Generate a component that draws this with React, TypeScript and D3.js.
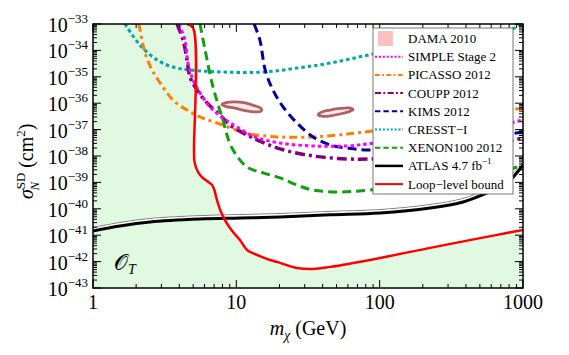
import * as d3 from "d3";

const W = 569;
const H = 355;
const margin = { top: 24, right: 46, bottom: 67, left: 93 };

// masses in GeV, cross sections as log10(sigma / cm^2)
const loopMass = [4.53, 4.99, 5.07, 5.11, 5.32, 5.67, 6.25, 6.77, 6.99, 7.33, 7.82, 8.48, 9.48, 10.6, 11.9, 14.6, 17.2, 20.2, 26.5, 34.3, 45.1, 100.7, 225, 502, 1000];
const loopLog = [-33.0, -33.15, -37.77, -38.23, -38.53, -38.76, -38.95, -39.1, -39.25, -39.67, -40.12, -40.5, -40.88, -41.18, -41.56, -41.79, -41.94, -42.05, -42.24, -42.28, -42.2, -41.86, -41.48, -41.11, -40.8];

const atlasMass = [1, 1.54, 2.5, 5.58, 10.6, 20.2, 45.1, 100.7, 225, 382, 561, 774, 1000];
const atlasLog = [-40.84, -40.65, -40.5, -40.39, -40.35, -40.31, -40.23, -40.16, -39.97, -39.74, -39.4, -39.02, -38.34];

const xenonMass = [5.58, 6.05, 6.88, 7.94, 9.33, 11.9, 15.4, 20.2, 26.5, 34.3, 52.9, 85.7, 310, 589, 1000];
const xenonLog = [-33.0, -33.98, -35.39, -36.52, -37.7, -38.42, -38.64, -38.83, -39.1, -39.29, -39.36, -39.29, -38.98, -38.72, -38.34];

const kimsMass = [13.3, 14.6, 15.9, 18.0, 21.2, 26.5, 34.3, 45.1, 59.2, 85.7, 264, 1000];
const kimsLog = [-33.0, -33.61, -34.74, -35.5, -36.14, -36.75, -37.28, -37.58, -37.7, -37.77, -37.51, -37.09];

const cresstMass = [1.67, 2.13, 2.8, 3.61, 4.75, 8.08, 15.4, 26.5, 45.1, 89.9, 310, 881, 955];
const cresstLog = [-33.0, -33.8, -34.36, -34.63, -34.74, -34.82, -34.82, -34.67, -34.48, -34.14, -33.61, -33.15, -33.0];

const picassoMass = [2.09, 2.2, 2.31, 2.58, 2.94, 3.61, 4.53, 5.58, 7.33, 10.1, 12.5, 20.2, 34.3, 59.2, 89.9, 310, 1000];
const picassoLog = [-33.0, -33.61, -34.1, -34.74, -35.23, -35.88, -36.26, -36.52, -36.75, -37.02, -37.17, -37.28, -37.28, -37.17, -37.05, -36.64, -36.18];

const simpleMass = [3.98, 4.38, 4.6, 4.99, 5.58, 6.55, 8.08, 10.1, 13.5, 20.2, 34.3, 59.2, 92.9, 310, 1000];
const simpleLog = [-33.0, -33.61, -34.48, -35.12, -35.61, -36.14, -36.56, -36.9, -37.28, -37.51, -37.62, -37.62, -37.51, -37.2, -36.64];

const couppMass = [3.86, 4.25, 4.53, 4.75, 5.32, 6.25, 7.7, 9.03, 13.1, 20.2, 34.3, 59.2, 89.9, 310, 1000];
const couppLog = [-33.0, -33.61, -34.36, -35.01, -35.5, -35.99, -36.45, -36.83, -37.32, -37.73, -38.0, -38.11, -38.11, -37.85, -37.32];

const damaLowMass = [7.94, 8.61, 9.79, 11.5, 13.3, 14.9, 14.9, 13.5, 11.5, 9.64, 8.48];
const damaLowLog = [-36.05, -35.97, -35.95, -35.99, -36.09, -36.2, -36.3, -36.33, -36.28, -36.18, -36.13];
const damaHighMass = [37.2, 39.6, 45.1, 52.9, 61.1, 65.2, 62.1, 54.7, 46.5, 40.3];
const damaHighLog = [-36.43, -36.33, -36.26, -36.2, -36.18, -36.24, -36.31, -36.39, -36.47, -36.5];

const xTicks = [1, 10, 100, 1000];
const yExponents = [-33, -34, -35, -36, -37, -38, -39, -40, -41, -42, -43];

const legendLabels = ["DAMA 2010", "SIMPLE Stage 2", "PICASSO 2012", "COUPP 2012", "KIMS 2012", "CRESST\u2212I", "XENON100 2012", "ATLAS 4.7 fb", "Loop\u2212level bound"];

type Pt = [number, number];
const zip = (m: number[], l: number[]): Pt[] => m.map((v, i) => [v, l[i]]);

const styles: Record<string, { color: string; width: number; dash?: string }> = {
  simple: { color: "#ff00ff", width: 3, dash: "3.5,3" },
  picasso: { color: "#ff7f00", width: 3, dash: "8,4,3,4" },
  coupp: { color: "#800080", width: 3.5, dash: "10,4,3,4" },
  kims: { color: "#0000a0", width: 3, dash: "9,5" },
  cresst: { color: "#00a8a8", width: 3, dash: "3.5,3" },
  xenon: { color: "#10a010", width: 3, dash: "9,5" },
  atlas: { color: "#000000", width: 3 },
  loop: { color: "#ff0000", width: 2.5 },
};

export default function App() {
  const x0 = margin.left;
  const x1 = W - margin.right;
  const y0 = margin.top;
  const y1 = H - margin.bottom;

  const x = d3.scaleLog().domain([1, 1000]).range([x0, x1]);
  const y = d3.scaleLog().domain([1e-43, 1e-33]).range([y1, y0]);

  const line = d3
    .line<Pt>()
    .x((d) => x(d[0]))
    .y((d) => y(Math.pow(10, d[1])))
    .curve(d3.curveCatmullRom.alpha(0.5));
  const closed = d3
    .line<Pt>()
    .x((d) => x(d[0]))
    .y((d) => y(Math.pow(10, d[1])))
    .curve(d3.curveCatmullRomClosed.alpha(0.5));

  const loopPts = zip(loopMass, loopLog);
  const fillPath =
    line(loopPts) +
    `L${x(1000)},${y(1e-43)}L${x(1)},${y(1e-43)}L${x(1)},${y(1e-33)}Z`;

  const series: [string, Pt[]][] = [
    ["cresst", zip(cresstMass, cresstLog)],
    ["picasso", zip(picassoMass, picassoLog)],
    ["kims", zip(kimsMass, kimsLog)],
    ["coupp", zip(couppMass, couppLog)],
    ["simple", zip(simpleMass, simpleLog)],
    ["xenon", zip(xenonMass, xenonLog)],
  ];

  // minor ticks
  const xMinor: number[] = [];
  [1, 10, 100].forEach((d) => {
    for (let k = 2; k <= 9; k++) xMinor.push(k * d);
  });
  const yMinor: number[] = [];
  for (let e = -43; e < -33; e++) {
    for (let k = 2; k <= 9; k++) yMinor.push(k * Math.pow(10, e));
  }

  const legendKeys = ["dama", "simple", "picasso", "coupp", "kims", "cresst", "xenon", "atlas", "loop"];
  const lx = 373;
  const ly = 28;

  return (
    <svg
      width={W}
      height={H}
      style={{ position: "absolute", left: 0, top: 0, background: "#fff" }}
      fontFamily="'Liberation Serif', 'Times New Roman', serif"
    >
      <defs>
        <clipPath id="plot">
          <rect x={x0} y={y0} width={x1 - x0} height={y1 - y0} />
        </clipPath>
      </defs>
      <g clipPath="url(#plot)">
        <path d={fillPath} fill="#e1f9e1" stroke="none" />
        {series.map(([k, pts]) => (
          <path
            key={k}
            d={line(pts) || ""}
            fill="none"
            stroke={styles[k].color}
            strokeWidth={styles[k].width}
            strokeDasharray={styles[k].dash}
          />
        ))}
        {[zip(damaLowMass, damaLowLog), zip(damaHighMass, damaHighLog)].map((pts, i) => (
          <path key={i} d={closed(pts) || ""} fill="#fdeaea" stroke="#b06262" strokeWidth={2.8} />
        ))}
        <path d={line(zip(atlasMass, atlasLog)) || ""} transform="translate(0,-3.5)" fill="none" stroke="#808080" strokeWidth={1} />
        <path d={line(zip(atlasMass, atlasLog)) || ""} transform="translate(0,-1.8)" fill="none" stroke="#ffffff" strokeWidth={2} />
        <path d={line(zip(atlasMass, atlasLog)) || ""} fill="none" stroke="#000" strokeWidth={3} />
        <path d={line(loopPts) || ""} fill="none" stroke={styles.loop.color} strokeWidth={styles.loop.width} />
      </g>

      {/* ticks */}
      <g stroke="#000" strokeWidth={1}>
        {xTicks.map((t) => (
          <g key={"xt" + t}>
            <line x1={x(t)} x2={x(t)} y1={y1} y2={y1 - 8} />
            <line x1={x(t)} x2={x(t)} y1={y0} y2={y0 + 8} />
          </g>
        ))}
        {xMinor.map((t) => (
          <g key={"xm" + t}>
            <line x1={x(t)} x2={x(t)} y1={y1} y2={y1 - 4} />
            <line x1={x(t)} x2={x(t)} y1={y0} y2={y0 + 4} />
          </g>
        ))}
        {yExponents.map((e) => (
          <g key={"yt" + e}>
            <line x1={x0} x2={x0 + 8} y1={y(Math.pow(10, e))} y2={y(Math.pow(10, e))} />
            <line x1={x1} x2={x1 - 8} y1={y(Math.pow(10, e))} y2={y(Math.pow(10, e))} />
          </g>
        ))}
        {yMinor.map((t, i) => (
          <g key={"ym" + i}>
            <line x1={x0} x2={x0 + 4} y1={y(t)} y2={y(t)} />
            <line x1={x1} x2={x1 - 4} y1={y(t)} y2={y(t)} />
          </g>
        ))}
      </g>
      <rect x={x0} y={y0} width={x1 - x0} height={y1 - y0} fill="none" stroke="#000" strokeWidth={1.5} />

      {/* tick labels */}
      {xTicks.map((t) => (
        <text key={"xl" + t} x={x(t)} y={y1 + 21} fontSize={20} textAnchor="middle">
          {t}
        </text>
      ))}
      {yExponents.map((e) => (
        <text key={"yl" + e} x={x0 - 5} y={y(Math.pow(10, e)) + 8} fontSize={20} textAnchor="end">
          10
          <tspan dy={-9} fontSize={13}>
            {"\u2212" + Math.abs(e)}
          </tspan>
        </text>
      ))}

      {/* axis titles */}
      <text x={308} y={335} fontSize={20} textAnchor="middle">
        <tspan fontStyle="italic">m</tspan>
        <tspan dy={5} fontSize={14} fontStyle="italic">
          {"\u03c7"}
        </tspan>
        <tspan dy={-5}>{" (GeV)"}</tspan>
      </text>
      <text transform="translate(33,199) rotate(-90)" fontSize={20}>
        <tspan fontStyle="italic">{"\u03c3"}</tspan>
        <tspan dy={-8} fontSize={13}>SD</tspan>
        <tspan dx={-18} dy={14} fontSize={13} fontStyle="italic">N</tspan>
        <tspan dx={14} dy={-6}>(cm</tspan>
        <tspan dy={-8} fontSize={13}>2</tspan>
        <tspan dy={8}>)</tspan>
      </text>

      <text x={114} y={270} fontSize={22}>
        {"\ud835\udcaa"}
        <tspan dy={4} fontSize={14} fontStyle="italic">T</tspan>
      </text>

      {/* legend */}
      <rect x={lx} y={ly} width={140} height={166} fill="#fff" stroke="#555" strokeWidth={0.8} />
      {legendKeys.map((k, i) => {
        const cy = ly + 10.5 + i * 18.2;
        return (
          <g key={k}>
            {k === "dama" ? (
              <rect x={lx + 5} y={cy - 7.5} width={15} height={15} fill="#ffc0c0" />
            ) : (
              <line
                x1={lx + 2}
                x2={lx + 30}
                y1={cy}
                y2={cy}
                stroke={styles[k].color}
                strokeWidth={k === "atlas" ? 2.5 : 2}
                strokeDasharray={styles[k].dash ? styles[k].dash!.split(",").map((v) => +v * 0.6).join(",") : undefined}
              />
            )}
            <text x={lx + 35} y={cy + 4.5} fontSize={13}>
              {legendLabels[i]}
              {k === "atlas" ? (
                <tspan dy={-6} fontSize={9}>
                  {"\u22121"}
                </tspan>
              ) : null}
            </text>
          </g>
        );
      })}
    </svg>
  );
}
